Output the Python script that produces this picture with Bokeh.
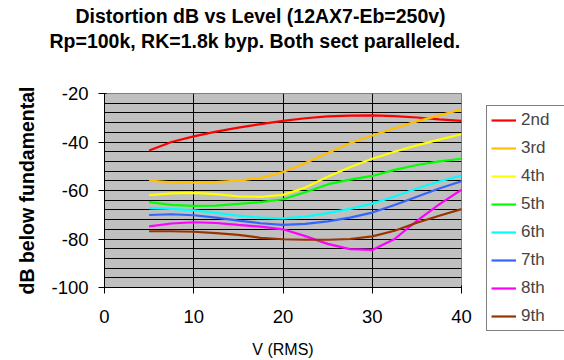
from bokeh.plotting import figure
from bokeh.models import Legend, LegendItem, Title, FixedTicker, Range1d
from bokeh.embed import file_html
from bokeh.resources import INLINE

# ---- data ----
volts = [5, 7.5, 10, 12.5, 15, 17.5, 20, 22.5, 25, 27.5, 30, 32.5, 35, 37.5, 40]
h2 = [-43.5, -40, -37.7, -35.7, -34.1, -32.6, -31.3, -30.2, -29.4, -29.1, -29, -29.3, -29.9, -30.7, -31.3]
h3 = [-55.9, -56.6, -56.8, -56.5, -55.9, -54.8, -52.4, -48.7, -44.5, -40.5, -37.3, -34.3, -31.5, -29, -26.6]
h4 = [-61.9, -61.2, -61, -61.5, -62.4, -62.6, -61.8, -58.8, -54.3, -50.4, -46.9, -44, -41.4, -39, -36.8]
h5 = [-64.8, -65.9, -66.3, -66.2, -65.5, -64.8, -63.6, -60.7, -57.5, -55.5, -54, -51.5, -49.5, -48, -46.9]
h6 = [-67.3, -67.6, -68.2, -69.2, -70.4, -71.2, -71.5, -70.8, -69.3, -67.6, -65.4, -62.5, -59.2, -56.3, -53.8]
h7 = [-70.1, -69.8, -70.2, -71.2, -72.4, -73.5, -74.2, -73.8, -72.7, -71.2, -69.1, -66, -62.6, -59.2, -56.2]
h8 = [-74.8, -73.6, -73.1, -73.4, -74.2, -74.9, -76, -78.8, -82, -84.2, -84.5, -80, -72.5, -65.7, -59.7]
h9 = [-76.8, -76.8, -77, -77.6, -78.3, -79.5, -80.1, -80.3, -80.3, -80, -78.9, -76.6, -73.3, -70.4, -67.7]

series_names = ["2nd", "3rd", "4th", "5th", "6th", "7th", "8th", "9th"]
series_vals = [h2, h3, h4, h5, h6, h7, h8, h9]
series_colors = ["#FF0000", "#FFC000", "#FFFF00", "#00FF00", "#00FFFF", "#3366FF", "#FF00FF", "#993300"]

x_ticks = [0, 10, 20, 30, 40]
y_ticks = [-100, -80, -60, -40, -20]
y_tick_labels = ["-100", "-80", "-60", "-40", "-20"]
y_grid = list(range(-96, -23, 4))
x_grid = [10, 20, 30]

title1 = "Distortion dB vs Level (12AX7-Eb=250v)"
title2 = "Rp=100k, RK=1.8k byp. Both sect paralleled."

FONT = "Liberation Sans"

p = figure(frame_width=357, frame_height=194, output_backend="svg", toolbar_location=None,
           x_range=Range1d(0, 40), y_range=Range1d(-100, -20),
           min_border_left=104, min_border_right=103, min_border_top=93,
           min_border_bottom=73)
p.title = None
p.border_fill_color = "white"
p.background_fill_color = "#C0C0C0"
p.outline_line_color = "#808080"
p.outline_line_width = 1

# grids
p.xgrid.ticker = FixedTicker(ticks=x_grid)
p.xgrid.grid_line_color = "black"
p.xgrid.grid_line_width = 1
p.ygrid.ticker = FixedTicker(ticks=y_grid)
p.ygrid.grid_line_color = "black"
p.ygrid.grid_line_width = 1

# axes
for ax in (p.xaxis[0], p.yaxis[0]):
    ax.axis_line_color = "black"
    ax.major_tick_line_color = "black"
    ax.minor_tick_line_color = None
    ax.major_tick_out = 6
    ax.major_tick_in = 2
    ax.major_label_text_font = FONT
    ax.major_label_text_font_size = "18.5px"
    ax.major_label_text_color = "black"
    ax.axis_label_text_font = FONT
    ax.axis_label_text_color = "black"

p.xaxis.ticker = FixedTicker(ticks=x_ticks)
p.yaxis.ticker = FixedTicker(ticks=y_ticks)
p.yaxis.major_label_overrides = {t: s for t, s in zip(y_ticks, y_tick_labels)}
p.xaxis.major_label_standoff = 16
p.yaxis.major_label_standoff = 10
p.xaxis.axis_label = "V (RMS)"
p.xaxis.axis_label_text_font_size = "16px"
p.xaxis.axis_label_text_font_style = "normal"
p.xaxis.axis_label_standoff = 15
p.yaxis.axis_label = "dB below fundamental"
p.yaxis.axis_label_text_font_size = "19.5px"
p.yaxis.axis_label_text_font_style = "bold"
p.yaxis.axis_label_standoff = 10

items = []
for name, vals, col in zip(series_names, series_vals, series_colors):
    r = p.line(volts, vals, line_color=col, line_width=2.2)
    items.append(LegendItem(label=name, renderers=[r]))

legend = Legend(items=items, location=(25, -44),
                label_text_font=FONT, label_text_font_size="17px",
                glyph_width=25, glyph_height=20, label_height=20, label_width=41,
                label_standoff=5, spacing=8, padding=4, margin=0,
                border_line_color="black", border_line_width=1,
                background_fill_color="white", background_fill_alpha=1)
p.add_layout(legend, "right")

spacer = Title(text=" ", align="left", standoff=29, text_font=FONT,
               text_font_size="10px", text_color="white")
t2 = Title(text=title2, align="left", offset=-55, standoff=0, text_font=FONT,
           text_font_size="19.5px", text_font_style="bold", text_color="black")
t1 = Title(text=title1, align="left", offset=-29, standoff=1, text_font=FONT,
           text_font_size="19.5px", text_font_style="bold", text_color="black")
p.add_layout(spacer, "above")
p.add_layout(t2, "above")
p.add_layout(t1, "above")

open("out.html", "w").write(file_html(p, INLINE))
